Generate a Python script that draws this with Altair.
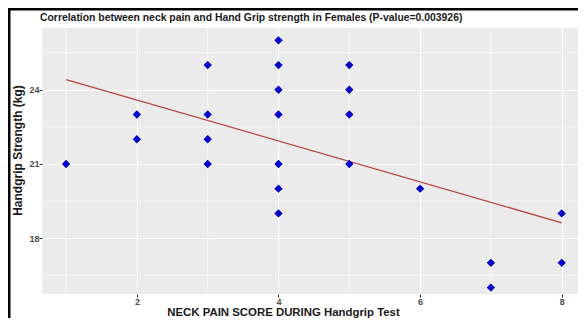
import altair as alt
import pandas as pd

# Data
pain_score = [1, 2, 2, 3, 3, 3, 3, 4, 4, 4, 4, 4, 4, 4, 5, 5, 5, 5, 6, 7, 7, 8, 8]
grip_strength = [21, 22, 23, 21, 22, 23, 25, 19, 20, 21, 23, 24, 25, 26, 21, 23, 24, 25, 20, 16, 17, 17, 19]
x_major = [2, 4, 6, 8]
x_minor = [1, 3, 5, 7]
y_major = [18, 21, 24]
y_minor = [16.5, 19.5, 22.5, 25.5]
title_text = "Correlation between neck pain and Hand Grip strength in Females (P-value=0.003926)"
x_title = "NECK PAIN SCORE DURING Handgrip Test"
y_title = "Handgrip Strength (kg)"

df = pd.DataFrame({"x": pain_score, "y": grip_strength})
xs = alt.Scale(domain=[0.66, 8.23], nice=False, zero=False)
ys = alt.Scale(domain=[15.74, 26.5], nice=False, zero=False)

W, H = 536, 266

base = alt.Chart(df)

minor_x = alt.Chart(pd.DataFrame({"x": x_minor})).mark_rule(color="white", strokeWidth=0.6).encode(
    x=alt.X("x:Q", scale=xs))
minor_y = alt.Chart(pd.DataFrame({"y": y_minor})).mark_rule(color="white", strokeWidth=0.6).encode(
    y=alt.Y("y:Q", scale=ys))

points = base.mark_point(shape="diamond", filled=True, color="#0000C8", size=70, opacity=1).encode(
    x=alt.X("x:Q", scale=xs,
            axis=alt.Axis(values=x_major, title=x_title, format="d", gridColor="white", gridWidth=1.2)),
    y=alt.Y("y:Q", scale=ys,
            axis=alt.Axis(values=y_major, title=y_title, format="d", gridColor="white", gridWidth=1.2)),
)

reg = base.transform_regression("x", "y", extent=[1, 8]).mark_line(
    color="#B5453C", strokeWidth=1.3).encode(
    x=alt.X("x:Q", scale=xs), y=alt.Y("y:Q", scale=ys))

title = alt.Chart(pd.DataFrame({"t": [title_text]})).mark_text(
    align="left", baseline="middle", fontSize=10.4, fontWeight="bold", font="Liberation Sans",
    color="#1a1a1a", clip=False).encode(
    x=alt.value(-2), y=alt.value(-10), text="t:N")

border_top = alt.Chart(pd.DataFrame({"a": [0]})).mark_rule(color="black", strokeWidth=3, clip=False).encode(
    x=alt.value(-34), x2=alt.value(W), y=alt.value(-19))
border_left = alt.Chart(pd.DataFrame({"a": [0]})).mark_rule(color="black", strokeWidth=3, clip=False).encode(
    x=alt.value(-33), y=alt.value(-20), y2=alt.value(H + 30))

chart = alt.layer(minor_x, minor_y, reg, points, title, border_top, border_left).properties(
    width=W, height=H,
    autosize=alt.AutoSizeParams(type="none"),
    padding={"left": 34, "top": 20, "right": 0, "bottom": 24},
    background="white",
).configure_view(fill="#EBEBEB", stroke=None).configure_axis(
    domain=False,
    tickColor="#333333", tickSize=3, tickWidth=1,
    labelFont="Liberation Sans", labelFontSize=9, labelFontWeight="bold", labelColor="#4d4d4d",
    titleFont="Liberation Sans", titleFontWeight="bold", titleColor="#1a1a1a",
    labelPadding=0,
).configure_axisX(
    titleFontSize=11.4, titleX=241, titleY=21.5, titleAlign="center", titleBaseline="alphabetic"
).configure_axisY(
    titleFontSize=12, titleX=-21, titleY=122, titleAlign="center", titleBaseline="alphabetic", titleAngle=270)

chart.save("out.html", embed_options={"renderer": "svg", "actions": False})
